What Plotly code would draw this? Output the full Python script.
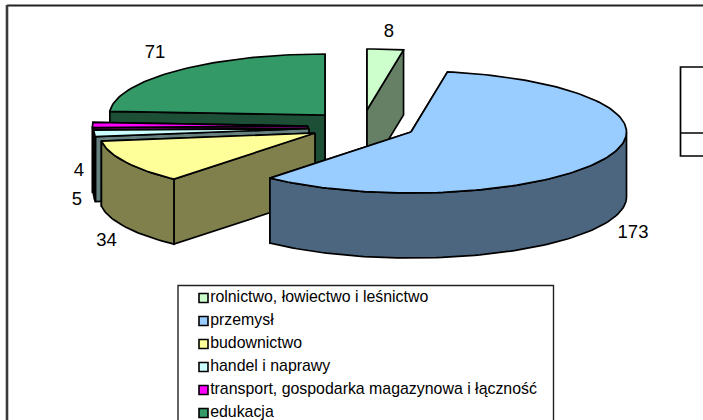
import math
import plotly.graph_objects as go

# ---- data ----
categories = ["rolnictwo, łowiectwo i leśnictwo", "przemysł", "budownictwo",
              "handel i naprawy", "transport, gospodarka magazynowa i łączność", "edukacja"]
values = [8, 173, 34, 5, 4, 71]

# ---- style ----
top_colors = ["#CCFFCC", "#99CCFF", "#FFFF99", "#CCFFFF", "#FF00FF", "#339966"]
side_colors = ["#668066", "#4D6680", "#80804D", "#668080", "#800080", "#1C4F35"]
centers = [(367, 110), (411, 132), (315, 133), (309, 128.5), (308, 126), (325, 115)]
label_pos = [(389, 32), (633, 233), (106.5, 241), (77, 200), (79, 171), (155, 53)]
draw_order = [5, 4, 3, 0, 2, 1]
RX, RY, DEPTH = 215.5, 61, 65
LW = 1.7
FONT = "Liberation Sans, Arial, sans-serif"

fig = go.Figure()


def rim(c, deg):
    r = math.radians(deg)
    return c[0] + RX * math.sin(r), c[1] - RY * math.cos(r)


def poly(pts, color, name):
    xs = [p[0] for p in pts] + [pts[0][0]]
    ys = [p[1] for p in pts] + [pts[0][1]]
    fig.add_trace(go.Scatter(x=xs, y=ys, mode="lines", fill="toself", fillcolor=color,
                             line=dict(color="black", width=LW), name=name,
                             hoverinfo="name", showlegend=False))


def arc(c, a0, a1):
    n = max(2, int(abs(a1 - a0) / 1.5) + 1)
    return [rim(c, a0 + (a1 - a0) * i / n) for i in range(n + 1)]


total = sum(values)
starts = [sum(values[:i]) / total * 360 for i in range(len(values))]
ends = [sum(values[:i + 1]) / total * 360 for i in range(len(values))]

for i in draw_order:
    c, a0, a1 = centers[i], starts[i], ends[i]
    # radial cut faces, the one further back first
    cuts = sorted([a0, a1], key=lambda a: rim(c, a)[1])
    for a in cuts:
        p = rim(c, a)
        poly([c, p, (p[0], p[1] + DEPTH), (c[0], c[1] + DEPTH)], side_colors[i], categories[i])
    # outer wall, front half only
    w0, w1 = max(a0, 90), min(a1, 270)
    if w1 > w0:
        top = arc(c, w0, w1)
        poly(top + [(x, y + DEPTH) for x, y in reversed(top)], side_colors[i], categories[i])
    # top face
    poly([c] + arc(c, a0, a1), top_colors[i], categories[i])

# data labels
fig.add_trace(go.Scatter(x=[p[0] for p in label_pos], y=[p[1] for p in label_pos],
                         mode="text", text=[str(v) for v in values],
                         textfont=dict(family=FONT, size=18.5, color="black"),
                         textposition="middle center", showlegend=False, hoverinfo="skip"))

# legend
legend_y = [298 + 23 * i for i in range(len(categories))]
fig.add_trace(go.Scatter(x=[203.5] * len(categories), y=legend_y, mode="markers+text",
                         marker=dict(symbol="square", size=9, color=top_colors,
                                     line=dict(color="black", width=1.6)),
                         text=categories, textposition="middle right",
                         textfont=dict(family=FONT, size=15.9, color="black"),
                         showlegend=False, hoverinfo="skip", cliponaxis=False))

shapes = [
    dict(type="rect", x0=178, x1=553.5, y0=285.5, y1=440, line=dict(color="#222", width=1.4)),
    dict(type="rect", x0=680.5, x1=740, y0=67, y1=156, line=dict(color="black", width=1.7)),
    dict(type="line", x0=680.5, x1=740, y0=133, y1=133, line=dict(color="black", width=1.7)),
    dict(type="line", x0=7, x1=760, y0=5.5, y1=5.5, line=dict(color="#222", width=2)),
    dict(type="line", x0=7, x1=7, y0=5, y1=440, line=dict(color="#3a3a3a", width=2.6)),
]
fig.update_layout(
    width=703, height=420, margin=dict(l=0, r=0, t=0, b=0, autoexpand=False),
    paper_bgcolor="white", plot_bgcolor="white", showlegend=False, shapes=shapes,
    xaxis=dict(range=[0, 703], visible=False, fixedrange=True),
    yaxis=dict(range=[420, 0], visible=False, fixedrange=True),
)
fig.write_html("out.html", post_script="document.body.style.margin='0';", config={"displayModeBar": False})
